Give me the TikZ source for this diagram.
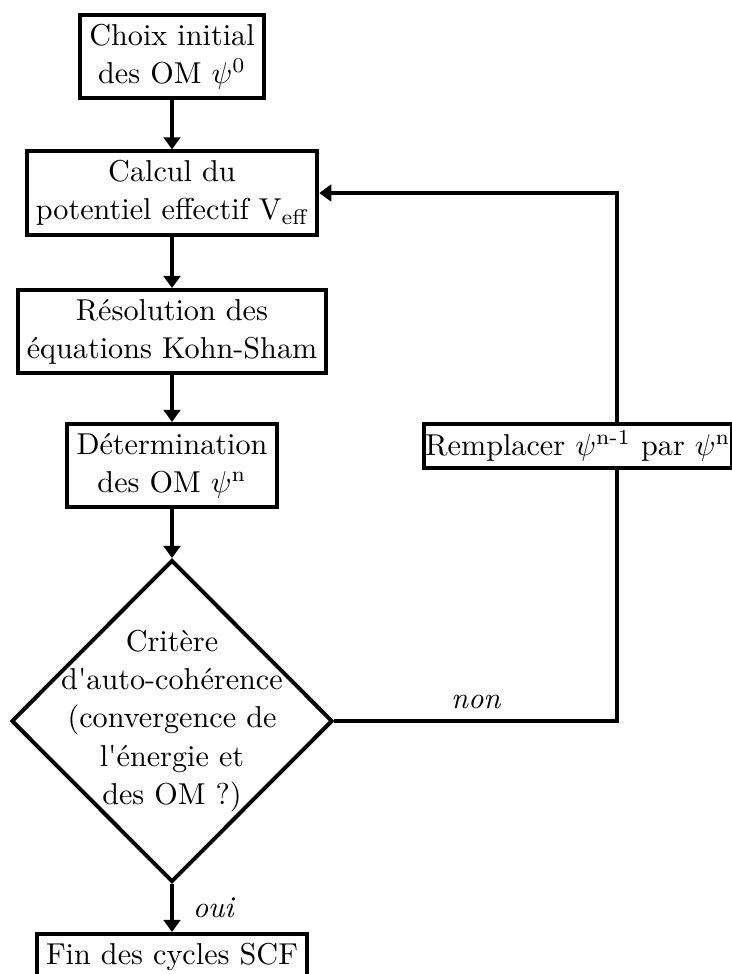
\documentclass[tikz,border=0pt]{standalone}
\usepackage{amsmath}
\usetikzlibrary{arrows.meta,shapes.geometric}

\begin{document}
\begin{tikzpicture}
[x=0.3311pt,y=-0.3311pt,
  lineDecorate/.style={-{Triangle[length=4pt,width=5.5pt]},line width=1.1pt},%
  plainDecorate/.style={-,line width=1.1pt},%
  nodeDecorate/.style={shape=rectangle,draw,line width=1.3pt,fill=white,
    align=center,inner sep=3pt,font=\fontsize{10}{12.6}\selectfont},
  testDecorate/.style={shape=diamond,draw,line width=1.3pt,inner sep=0pt,
    minimum width=106.3pt,minimum height=106.6pt},
  textDecorate/.style={align=center,inner sep=0pt,font=\fontsize{10}{12.7}\selectfont},
  labelDecorate/.style={font=\fontsize{10}{12}\selectfont\itshape}]
\useasboundingbox (0,0) rectangle (732,974);
%% nodes or boxes
\node (init) at (172,56.5) [nodeDecorate] {Choix initial\\des OM $\psi^0$};
\node (calc) at (172,193) [nodeDecorate] {Calcul du\\potentiel effectif V$_{\text{eff}}$};
\node (ks) at (172,331.5) [nodeDecorate] {Résolution des\\équations Kohn-Sham};
\node (det) at (172,465.5) [nodeDecorate] {Détermination\\des OM $\psi^{\text{n}}$};
\node (crit) at (172,721) [testDecorate] {};
\node (critText) at (crit.center) [textDecorate] {Critère\\d\textquotesingle auto-cohérence\\(convergence de\\l\textquotesingle énergie et\\des OM ?)};
\node (fin) at (172,932) [nodeDecorate,anchor=north] {Fin des cycles SCF};
\node (repl) at (578,446) [nodeDecorate,inner xsep=0.5pt,inner ysep=2.2pt] {Remplacer $\psi^{\text{n-1}}$ par $\psi^{\text{n}}$};
\coordinate (loopB) at (617,721);
\coordinate (loopT) at (calc.east -| loopB);
%% edges or lines
\path
\foreach \startnode/\endnode in {init/calc, calc/ks, ks/det, det/crit}
{
  (\startnode) edge[lineDecorate] (\endnode)
};
\draw[lineDecorate] (crit) -- node[labelDecorate,right,xshift=3pt] {oui} (fin);
\draw[plainDecorate] (crit.east) -- node[labelDecorate,above] {non} (loopB) -- (loopB |- repl.south);
\draw[lineDecorate] (loopB |- repl.north) -- (loopT) -- (calc.east);
\end{tikzpicture}
\end{document}
